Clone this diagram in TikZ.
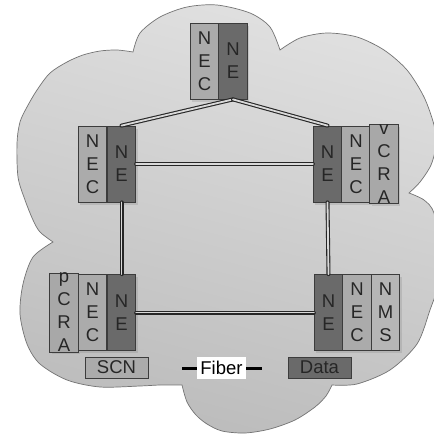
\documentclass[tikz,border=0pt]{standalone}
\usepackage{fontspec}
\setmainfont{Liberation Sans}
\usetikzlibrary{shadows}

\definecolor{negray}{HTML}{6A6A6A}
\definecolor{necgray}{HTML}{ABABAB}
\definecolor{cragray}{HTML}{A8A8A8}
\definecolor{nmsgray}{HTML}{B6B6B6}
\definecolor{edgegray}{HTML}{3C3C3C}
\definecolor{cloudtop}{HTML}{E0E0E0}
\definecolor{cloudbot}{HTML}{BCBCBC}

\newcommand{\colfont}{\fontsize{18.5}{23}\selectfont}

\tikzset{
  col/.style={draw=edgegray, line width=0.8pt, minimum width=28.5pt,
    minimum height=76pt, inner sep=0pt, align=center, font=\colfont,
    text=black!85,
    drop shadow={shadow xshift=2pt, shadow yshift=-2.5pt, opacity=0.25}},
  necol/.style={col, fill=negray},
  neccol/.style={col, fill=necgray},
  cracol/.style={col, fill=cragray},
  nmscol/.style={col, fill=nmsgray},
  pipe/.style={draw=black!85, double=gray!30, line width=1.1pt,
    double distance=1.8pt, line cap=round},
  legendbox/.style={draw=edgegray, line width=0.8pt, minimum width=63pt,
    minimum height=21pt, inner sep=0pt, font=\colfont, text=black!85},
  cloud/.style={draw=gray!90!black, line width=0.7pt,
    top color=cloudtop, bottom color=cloudbot, shading angle=-15}
}

\begin{document}
\begin{tikzpicture}[x=1pt,y=-1pt]
\useasboundingbox (0,0) rectangle (434,434);
\clip (0,0) rectangle (434,434);
\fill[white] (0,0) rectangle (434,434);

% the cloud, one smooth run per bump
\path[cloud]
  plot[smooth] coordinates {(133,52) (140,33) (160,17) (187,7) (217,5) (250,13) (270,27) (280,50)}
  -- plot[smooth] coordinates {(280,50) (300,38) (327,33) (357,37) (384,50) (407,70) (424,97) (434,125) (436,145) (431,165) (420,182) (409,193)}
  -- plot[smooth] coordinates {(409,193) (424,200) (434,213) (440,250) (438,285) (430,310) (417,344) (390,370) (357,384) (332,385)}
  -- plot[smooth] coordinates {(332,385) (326,396) (315,407) (295,420) (270,429) (245,433) (222,431) (207,424) (196,415) (187,402) (182,385)}
  -- plot[smooth] coordinates {(182,385) (160,385) (140,386) (100,387) (67,380) (40,364) (27,344) (20,314) (23,284) (33,257) (53,242)}
  -- plot[smooth] coordinates {(53,242) (40,232) (33,220) (25,200) (18,177) (17,143) (20,122) (27,107) (37,90) (50,73) (67,62) (83,55) (100,51) (117,50) (133,52)}
  -- cycle;

% top element
\node[neccol] (necT) at (204.5,61) {N\\E\\C};
\node[necol]  (neT)  at (233,61)   {N\\E};

% upper left element
\node[neccol] (necTL) at (92.5,164)  {N\\E\\C};
\node[necol]  (neTL)  at (121.5,164) {N\\E};

% upper right element
\node[necol]  (neTR)  at (327.5,164) {N\\E};
\node[neccol] (necTR) at (356,164)   {N\\E\\C};
\node[cracol] (vcra)  at (384,164)   {v\\C\\R\\A};

% lower left element
\node[cracol] (pcra)  at (64,312.5)    {p\\C\\R\\A};
\node[neccol] (necBL) at (92.5,312.5)  {N\\E\\C};
\node[necol]  (neBL)  at (121.5,312.5) {N\\E};

% lower right element
\node[necol]  (neBR)  at (328.5,312.5) {N\\E};
\node[neccol] (necBR) at (357,312.5)   {N\\E\\C};
\node[nmscol] (nms)   at (385.5,312.5) {N\\M\\S};

% fiber links
\draw[pipe] (neT.south) -- (neTL.north);
\draw[pipe] (neT.south) -- (neTR.north);
\draw[pipe] (neTL.east) -- (neTR.west);
\draw[pipe] (neTL.south) -- (neBL.north);
\draw[pipe] (neTR.south) -- (neBR.north);
\draw[pipe] (neBL.east) -- (neBR.west);

% legend
\node[legendbox, fill=necgray] (scn)  at (116.5,367.5) {SCN};
\node[legendbox, fill=negray]  (data) at (319.5,367.5) {Data};
\node[fill=white, inner sep=0pt, minimum width=49pt, minimum height=22pt,
      font=\colfont] (fiber) at (221.5,368) {Fiber};
\coordinate (fibL) at (182,368);
\coordinate (fibR) at (262,368);
\draw[line width=3pt] (fibL) -- (fiber.west);
\draw[line width=3pt] (fiber.east) -- (fibR);
\end{tikzpicture}
\end{document}
